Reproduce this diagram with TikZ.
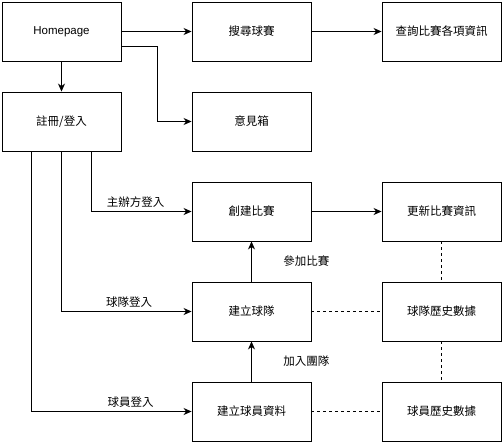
\documentclass[tikz,border=0pt]{standalone}
\usepackage{fontspec}
\setmainfont{Liberation Sans}
\newfontfamily\cjk{Noto Sans CJK TC}
\usetikzlibrary{arrows.meta}

\begin{document}
\begin{tikzpicture}[x=1pt,y=-1pt,line width=0.9pt,
  every node/.style={font=\cjk\fontsize{11.5}{14}\selectfont},
  box/.style={draw,minimum width=119pt,minimum height=59pt,inner sep=0pt},
  arr/.style={-{Stealth[length=8pt,width=7pt,inset=2.5pt]}},
  link/.style={dash pattern=on 3pt off 3pt}]
\useasboundingbox (0,0) rectangle (502,442);
% boxes
\node[box,font=\rmfamily\fontsize{11.5}{14}\selectfont] (home) at (61.5,31.5) {Homepage};
\node[box] (search) at (251.5,31.5) {搜尋球賽};
\node[box] (query) at (441.5,31.5) {查詢比賽各項資訊};
\node[box] (login) at (61.5,121.5) {註冊/登入};
\node[box] (mail) at (251.5,121.5) {意見箱};
\node[box] (create) at (251.5,211.5) {創建比賽};
\node[box] (update) at (441.5,211.5) {更新比賽資訊};
\node[box] (team) at (251.5,311.5) {建立球隊};
\node[box] (teamdata) at (441.5,311.5) {球隊歷史數據};
\node[box] (player) at (251.5,411.5) {建立球員資料};
\node[box] (playerdata) at (441.5,411.5) {球員歷史數據};
% arrows
\draw[arr] (home) -- (search);
\draw[arr] (search) -- (query);
\draw[arr] (home) -- (login);
\draw[arr] ([yshift=-15pt]home.east) -- ++(36,0) |- (mail.west);
\draw[arr] ([xshift=30pt]login.south) |- node[pos=0.72,above] {主辦方登入} (create.west);
\draw[arr] (login.south) |- node[pos=0.76,above] {球隊登入} (team.west);
\draw[arr] ([xshift=-30pt]login.south) |- node[pos=0.81,above] {球員登入} (player.west);
\draw[arr] (create) -- (update);
\draw[arr] (team) -- node[right=28pt] {參加比賽} (create);
\draw[arr] (player) -- node[right=28pt] {加入團隊} (team);
% dashed links
\draw[link] (team) -- (teamdata);
\draw[link] (player) -- (playerdata);
\draw[link] (update) -- (teamdata);
\draw[link] (teamdata) -- (playerdata);
\end{tikzpicture}
\end{document}
